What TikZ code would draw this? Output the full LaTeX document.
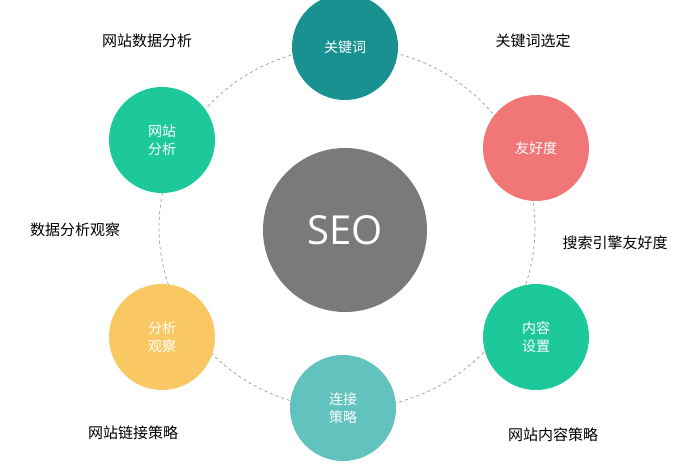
\documentclass[tikz,border=0pt]{standalone}
\usepackage{fontspec}
\newfontfamily\cjk{Noto Sans CJK SC}
\setmainfont{Open Sans}
\definecolor{cteal}{HTML}{1A9191}
\definecolor{cgreen}{HTML}{1DC99A}
\definecolor{cpink}{HTML}{F07678}
\definecolor{cyellow}{HTML}{FAC862}
\definecolor{clteal}{HTML}{62C2BD}
\definecolor{cgray}{HTML}{7A7A7A}
\begin{document}
\begin{tikzpicture}[x=1pt,y=-1pt,
  ball/.style={circle,minimum size=106pt,inner sep=0pt,text=white,font=\cjk\fontsize{14}{18}\selectfont,align=center},
  lab/.style={font=\cjk\fontsize{15}{18}\selectfont,text=black}]
\useasboundingbox[fill=white] (0,0) rectangle (700,470);
\draw[gray!70,dashed,line width=0.8pt] (347,228) ellipse [x radius=188,y radius=181];
\node[circle,fill=cgray,minimum size=164pt,text=white,font=\fontsize{40}{44}\selectfont] (seo) at (345,230) {SEO};
\node[ball,fill=cteal] (kw) at (345,47) {关键词};
\node[ball,fill=cpink] (fr) at (536,148) {友好度};
\node[ball,fill=cgreen] (nr) at (536,337) {内容\\设置};
\node[ball,fill=clteal] (lj) at (343,408) {连接\\策略};
\node[ball,fill=cyellow] (fx) at (162,337) {分析\\观察};
\node[ball,fill=cgreen] (wz) at (162,140) {网站\\分析};
\node[lab] (l1) at (147,41) {网站数据分析};
\node[lab] (l2) at (533,41) {关键词选定};
\node[lab] (l3) at (75,230) {数据分析观察};
\node[lab] (l4) at (615,243) {搜索引擎友好度};
\node[lab] (l5) at (133,433) {网站链接策略};
\node[lab] (l6) at (553,435) {网站内容策略};
\end{tikzpicture}
\end{document}
